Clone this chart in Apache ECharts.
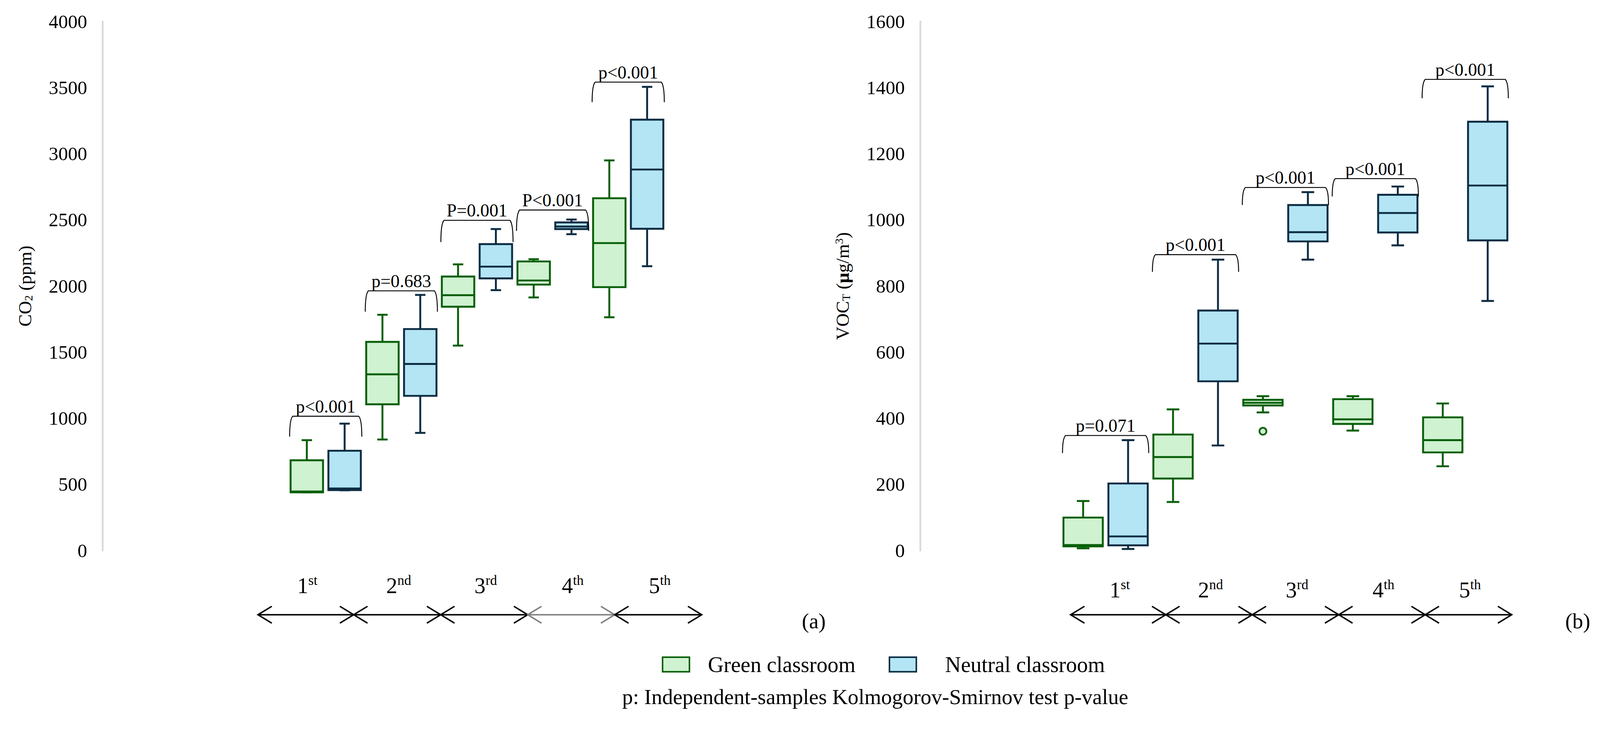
<!DOCTYPE html>
<html>
<head>
<meta charset="utf-8">
<script src="https://cdn.jsdelivr.net/npm/echarts@6/dist/echarts.min.js"></script>
<style>
html,body{margin:0;padding:0;background:#fff;overflow:hidden;}
#chart{width:4168px;height:1876px;transform-origin:0 0;}
</style>
</head>
<body>
<div id="chart"></div>
<script>
// ---------------- data ----------------
const periodNumbers = ['1', '2', '3', '4', '5'];
const periodSuffixes = ['st', 'nd', 'rd', 'th', 'th'];
const seriesNames = ['Green classroom', 'Neutral classroom'];

// [min, Q1, median, Q3, max] per period
const co2Green = [
  [441, 441, 447, 683, 835],
  [840, 1106, 1333, 1578, 1783],
  [1550, 1844, 1931, 2072, 2164],
  [1914, 2011, 2042, 2186, 2203],
  [1764, 1992, 2325, 2664, 2950]
];
const co2Neutral = [
  [456, 458, 470, 755, 960],
  [890, 1170, 1411, 1675, 1933],
  [1969, 2058, 2147, 2317, 2431],
  [2392, 2431, 2450, 2481, 2503],
  [2150, 2433, 2881, 3258, 3506]
];
const vocGreen = [
  [7, 13, 17, 100, 150],
  [147, 218, 283, 351, 427],
  [418, 439, 447, 456, 467],
  [363, 383, 397, 458, 467],
  [255, 297, 334, 403, 445]
];
const vocNeutral = [
  [5, 16, 43, 203, 334],
  [318, 512, 626, 726, 880],
  [880, 935, 963, 1045, 1084],
  [923, 962, 1021, 1076, 1101],
  [755, 938, 1104, 1297, 1404]
];
// outliers: [period index, value] (green classroom, VOC)
const vocGreenOutliers = [[2, 361]];

// p-value brackets: label, top of bracket, bottom of bracket ends
const co2PLabels = ['p<0.001', 'p=0.683', 'P=0.001', 'P<0.001', 'p<0.001'];
const co2BracketTop = [1016, 1964, 2497, 2575, 3542];
const co2BracketBottom = [862, 1806, 2333, 2417, 3390];
const vocPLabels = ['p=0.071', 'p<0.001', 'p<0.001', 'p<0.001', 'p<0.001'];
const vocBracketTop = [348, 895, 1098, 1125, 1425];
const vocBracketBottom = [295, 843, 1045, 1071, 1368];

// period arrows (boundaries along the period scale) and grey segments
const arrowStops = [-0.1, 1, 2, 3, 4, 5];
const co2GreySegments = [3];
const vocGreySegments = [];

// axis ticks
const co2Axis = { min: 0, max: 4000, interval: 500 };
const vocAxis = { min: 0, max: 1600, interval: 200 };

// ---------------- styles ----------------
const FONT = '"Liberation Serif", "Times New Roman", serif';
const greenFill = '#cff2d0', greenLine = '#085f08';
const blueFill = '#b3e5f5', blueLine = '#0c2d43';
const LW = 5;

const slots = [];
periodNumbers.forEach((p) => { slots.push(p + 'G'); slots.push(p + 'N'); });

function boxRender(fill, stroke, ratio) {
  return function (params, api) {
    const x = api.value(0);
    const band = api.size([1, 0])[0];
    const w = band * ratio;
    const cap = w * 0.32;
    const cx = api.coord([x, 0])[0];
    const yMin = api.coord([x, api.value(1)])[1];
    const yQ1 = api.coord([x, api.value(2)])[1];
    const yMed = api.coord([x, api.value(3)])[1];
    const yQ3 = api.coord([x, api.value(4)])[1];
    const yMax = api.coord([x, api.value(5)])[1];
    const ls = { stroke: stroke, lineWidth: LW, fill: 'none' };
    return {
      type: 'group',
      children: [
        { type: 'line', shape: { x1: cx, y1: yQ3, x2: cx, y2: yMax }, style: ls },
        { type: 'line', shape: { x1: cx - cap / 2, y1: yMax, x2: cx + cap / 2, y2: yMax }, style: ls },
        { type: 'line', shape: { x1: cx, y1: yQ1, x2: cx, y2: yMin }, style: ls },
        { type: 'line', shape: { x1: cx - cap / 2, y1: yMin, x2: cx + cap / 2, y2: yMin }, style: ls },
        { type: 'rect', shape: { x: cx - w / 2, y: yQ3, width: w, height: yQ1 - yQ3 }, style: { fill: fill, stroke: stroke, lineWidth: LW } },
        { type: 'line', shape: { x1: cx - w / 2, y1: yMed, x2: cx + w / 2, y2: yMed }, style: ls }
      ]
    };
  };
}

function bracketRender(labels, ratio) {
  return function (params, api) {
    const i0 = api.value(0), i1 = api.value(1);
    const band = api.size([1, 0])[0];
    const half = band * ratio / 2 + LW / 2;
    const x0 = api.coord([i0, 0])[0] - half;
    const x1 = api.coord([i1, 0])[0] + half;
    const yT = api.coord([i0, api.value(2)])[1];
    const yB = api.coord([i0, api.value(3)])[1];
    const h = yB - yT;
    const d = 'M' + x0 + ',' + yB +
      ' C' + x0 + ',' + (yT + h * 0.45) + ' ' + (x0 + 2) + ',' + (yT + h * 0.12) + ' ' + (x0 + 8) + ',' + yT +
      ' L' + (x1 - 8) + ',' + yT +
      ' C' + (x1 - 2) + ',' + (yT + h * 0.12) + ' ' + x1 + ',' + (yT + h * 0.45) + ' ' + x1 + ',' + yB;
    return {
      type: 'group',
      children: [
        { type: 'path', shape: { pathData: d }, style: { fill: 'none', stroke: '#000', lineWidth: 2.4 } },
        { type: 'text', x: (x0 + x1) / 2, y: yT - 2,
          style: { text: labels[params.dataIndex], fontSize: 47, fontFamily: FONT, fill: '#000', align: 'center', verticalAlign: 'bottom' } }
      ]
    };
  };
}

function arrowRender(greySegs, labelLift) {
  return function (params, api) {
    const a = api.coord([api.value(0), 0]);
    const b = api.coord([api.value(1), 0]);
    const i = params.dataIndex;
    const c = greySegs.indexOf(i) >= 0 ? '#808080' : '#000000';
    const L = 36, H = 22;
    const st = { stroke: c, lineWidth: 3.8, fill: 'none' };
    return {
      type: 'group',
      children: [
        { type: 'line', shape: { x1: a[0], y1: a[1], x2: b[0], y2: b[1] }, style: st },
        { type: 'polyline', shape: { points: [[a[0] + L, a[1] - H], [a[0], a[1]], [a[0] + L, a[1] + H]] }, style: st },
        { type: 'polyline', shape: { points: [[b[0] - L, b[1] - H], [b[0], b[1]], [b[0] - L, b[1] + H]] }, style: st },
        { type: 'text', x: (a[0] + b[0]) / 2 + 4, y: a[1] - labelLift,
          style: {
            text: '{n|' + periodNumbers[i] + '}{s|' + periodSuffixes[i] + '}',
            align: 'center', verticalAlign: 'middle',
            rich: {
              n: { fontSize: 58, fontFamily: FONT, fill: '#000', lineHeight: 64 },
              s: { fontSize: 36, fontFamily: FONT, fill: '#000', lineHeight: 36, verticalAlign: 'top' }
            }
          } }
      ]
    };
  };
}

function yAxisCfg(gridIndex, ax, offset, name, rich) {
  return {
    type: 'value', gridIndex: gridIndex, min: ax.min, max: ax.max, interval: ax.interval,
    offset: offset,
    axisLine: { show: true, lineStyle: { color: '#d9d9d9', width: 4.5 } },
    axisTick: { show: false },
    splitLine: { show: false },
    axisLabel: { fontSize: 50, fontFamily: FONT, color: '#000', margin: 40, formatter: (v) => String(v) },
    name: name, nameLocation: 'middle', nameRotate: 90, nameGap: 178,
    nameTextStyle: { rich: rich }
  };
}

const nameRich = {
  a: { fontSize: 48, fontFamily: FONT, color: '#000' },
  b: { fontSize: 48, fontFamily: FONT, color: '#000', fontWeight: 'bold' },
  sub: { fontSize: 30, fontFamily: FONT, color: '#000', verticalAlign: 'bottom', lineHeight: 48 },
  sup: { fontSize: 30, fontFamily: FONT, color: '#000', verticalAlign: 'top', lineHeight: 48 }
};

function boxData(arr, k) { return arr.map((d, i) => [2 * i + k].concat(d)); }
function bracketData(top, bottom) { return top.map((t, i) => [2 * i, 2 * i + 1, t, bottom[i]]); }
function arrowData() { return arrowStops.slice(0, -1).map((s, i) => [s, arrowStops[i + 1]]); }

const gridBase = { containLabel: false, outerBoundsMode: 'none' };

const option = {
  animation: false,
  backgroundColor: '#ffffff',
  grid: [
    Object.assign({ left: 750, top: 56, width: 985, height: 1378 }, gridBase),
    Object.assign({ left: 2763, top: 56, width: 1171, height: 1378 }, gridBase),
    Object.assign({ left: 672, top: 1560, width: 1156, height: 82 }, gridBase),
    Object.assign({ left: 2789, top: 1560, width: 1149, height: 82 }, gridBase)
  ],
  xAxis: [
    { type: 'category', gridIndex: 0, data: slots, show: false },
    { type: 'category', gridIndex: 1, data: slots, show: false },
    { type: 'value', gridIndex: 2, min: -0.1, max: 5, show: false },
    { type: 'value', gridIndex: 3, min: -0.1, max: 5, show: false }
  ],
  yAxis: [
    yAxisCfg(0, co2Axis, 483, '{a|CO}{sub|2}{a| (ppm)}', nameRich),
    yAxisCfg(1, vocAxis, 366, '{a|VOC}{sub|T}{a| (}{b|μ}{a|g/m}{sup|3}{a|)}', nameRich),
    { type: 'value', gridIndex: 2, min: -1, max: 1, show: false },
    { type: 'value', gridIndex: 3, min: -1, max: 1, show: false }
  ],
  legend: [
    { left: 1719, top: 1697, selectedMode: false, itemWidth: 70, itemHeight: 38,
      data: [{ name: seriesNames[0], icon: 'rect', itemStyle: { color: greenFill, borderColor: greenLine, borderWidth: 4 } }],
      textStyle: { fontSize: 57, fontFamily: FONT, color: '#000', padding: [0, 0, 0, 43] } },
    { left: 2310, top: 1697, selectedMode: false, itemWidth: 70, itemHeight: 38,
      data: [{ name: seriesNames[1], icon: 'rect', itemStyle: { color: blueFill, borderColor: blueLine, borderWidth: 4 } }],
      textStyle: { fontSize: 57, fontFamily: FONT, color: '#000', padding: [0, 0, 0, 70] } }
  ],
  graphic: [
    { type: 'text', x: 2280, y: 1815,
      style: { text: 'p: Independent-samples Kolmogorov-Smirnov test p-value', fontSize: 56, fontFamily: FONT, fill: '#000', align: 'center', verticalAlign: 'middle' } },
    { type: 'text', x: 2120, y: 1617, style: { text: '(a)', fontSize: 56, fontFamily: FONT, fill: '#000', align: 'center', verticalAlign: 'middle' } },
    { type: 'text', x: 4110, y: 1617, style: { text: '(b)', fontSize: 56, fontFamily: FONT, fill: '#000', align: 'center', verticalAlign: 'middle' } }
  ],
  series: [
    { type: 'custom', name: seriesNames[0], xAxisIndex: 0, yAxisIndex: 0, renderItem: boxRender(greenFill, greenLine, 0.858),
      itemStyle: { color: greenFill, borderColor: greenLine }, encode: { x: 0, y: [1, 2, 3, 4, 5] }, data: boxData(co2Green, 0), z: 3 },
    { type: 'custom', name: seriesNames[1], xAxisIndex: 0, yAxisIndex: 0, renderItem: boxRender(blueFill, blueLine, 0.858),
      itemStyle: { color: blueFill, borderColor: blueLine }, encode: { x: 0, y: [1, 2, 3, 4, 5] }, data: boxData(co2Neutral, 1), z: 3 },
    { type: 'custom', name: seriesNames[0], xAxisIndex: 1, yAxisIndex: 1, renderItem: boxRender(greenFill, greenLine, 0.875),
      itemStyle: { color: greenFill, borderColor: greenLine }, encode: { x: 0, y: [1, 2, 3, 4, 5] }, data: boxData(vocGreen, 0), z: 3 },
    { type: 'custom', name: seriesNames[1], xAxisIndex: 1, yAxisIndex: 1, renderItem: boxRender(blueFill, blueLine, 0.875),
      itemStyle: { color: blueFill, borderColor: blueLine }, encode: { x: 0, y: [1, 2, 3, 4, 5] }, data: boxData(vocNeutral, 1), z: 3 },
    { type: 'scatter', name: 'Green outliers', xAxisIndex: 1, yAxisIndex: 1, symbol: 'circle', symbolSize: 18,
      itemStyle: { color: greenFill, borderColor: greenLine, borderWidth: 4.5, opacity: 1 },
      data: vocGreenOutliers.map(o => [2 * o[0], o[1]]), z: 4 },
    { type: 'custom', name: 'CO2 p-values', xAxisIndex: 0, yAxisIndex: 0, renderItem: bracketRender(co2PLabels, 0.858),
      encode: { x: [0, 1], y: [2, 3] }, data: bracketData(co2BracketTop, co2BracketBottom), z: 5 },
    { type: 'custom', name: 'VOC p-values', xAxisIndex: 1, yAxisIndex: 1, renderItem: bracketRender(vocPLabels, 0.875),
      encode: { x: [0, 1], y: [2, 3] }, data: bracketData(vocBracketTop, vocBracketBottom), z: 5 },
    { type: 'custom', name: 'CO2 periods', xAxisIndex: 2, yAxisIndex: 2, renderItem: arrowRender(co2GreySegments, 76),
      encode: { x: [0, 1] }, data: arrowData(), z: 5 },
    { type: 'custom', name: 'VOC periods', xAxisIndex: 3, yAxisIndex: 3, renderItem: arrowRender(vocGreySegments, 65),
      encode: { x: [0, 1] }, data: arrowData(), z: 5 }
  ]
};

// fit the 4168x1876 design into whatever viewport the page gets
const dom = document.getElementById('chart');
const vw = window.innerWidth || 4168, vh = window.innerHeight || 1876;
const fit = Math.min(vw / 4168, vh / 1876);
if (Math.abs(fit - 1) > 0.001) dom.style.transform = 'scale(' + fit + ')';
const chart = echarts.init(dom, null, { renderer: 'svg' });
chart.setOption(option);
</script>
</body>
</html>
